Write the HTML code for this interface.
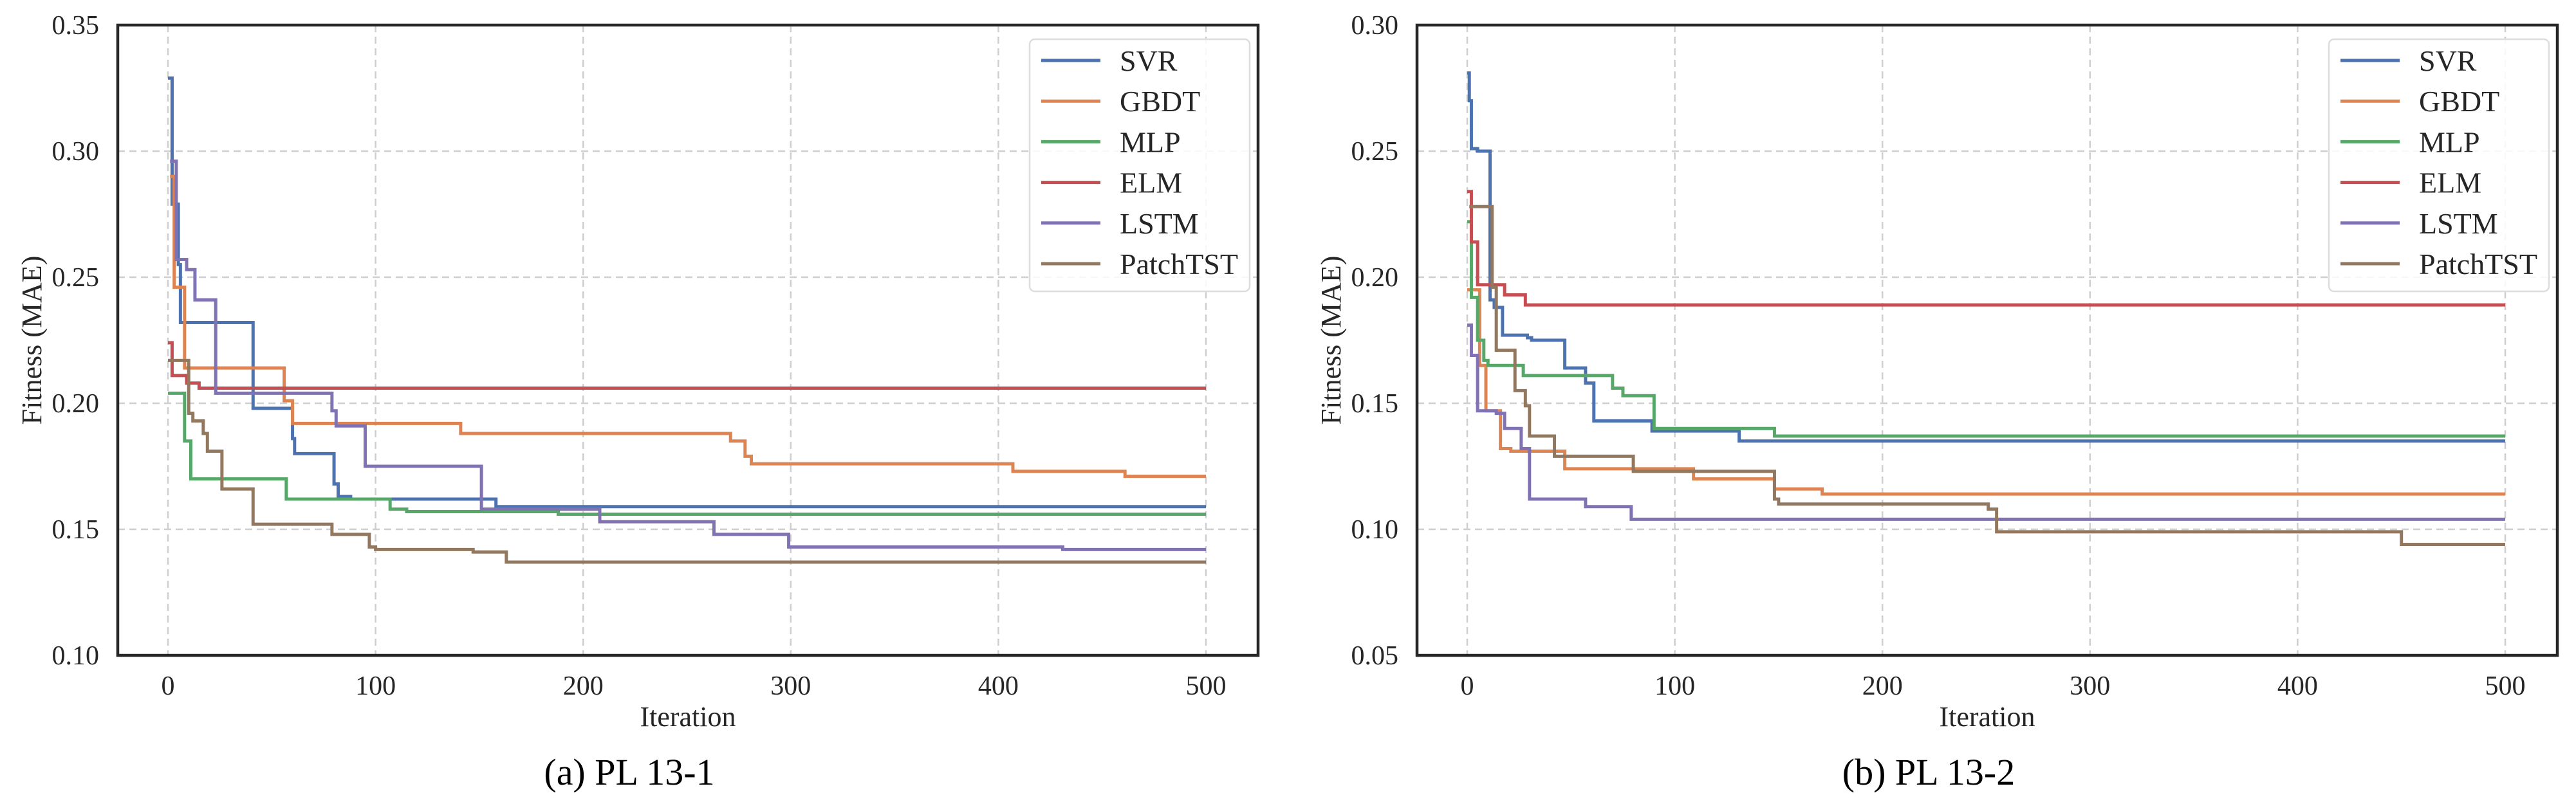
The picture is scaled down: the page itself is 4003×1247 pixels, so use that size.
<!DOCTYPE html>
<html><head><meta charset="utf-8">
<style>
html,body{margin:0;padding:0;background:#fff;}
svg{display:block;font-family:"Liberation Serif","DejaVu Serif",serif;}
</style></head>
<body>
<svg id="fig" width="4003" height="1247" viewBox="0 0 4003 1247" xmlns="http://www.w3.org/2000/svg"></svg>
<script>
const seriesNames = ["SVR","GBDT","MLP","ELM","LSTM","PatchTST"];
const xTicks = [0,100,200,300,400,500];
const yTicksA = [0.10,0.15,0.20,0.25,0.30,0.35];
const yTicksB = [0.05,0.10,0.15,0.20,0.25,0.30];

// Panel A (PL 13-1): step points (iteration, fitness)
const a_svr_x = [0,2,5,6,41,57,60,61,80,82,88,158,500];
const a_svr_y = [0.329,0.279,0.255,0.232,0.198,0.198,0.186,0.180,0.168,0.163,0.162,0.159,0.159];
const a_gbdt_x = [1,3,8,56,60,141,271,278,281,407,461,500];
const a_gbdt_y = [0.290,0.246,0.214,0.201,0.192,0.188,0.185,0.179,0.176,0.173,0.171,0.171];
const a_mlp_x = [0,8,11,57,107,115,188,500];
const a_mlp_y = [0.204,0.185,0.170,0.162,0.158,0.157,0.156,0.156];
const a_elm_x = [0,2,9,15,500];
const a_elm_y = [0.224,0.211,0.208,0.206,0.206];
const a_lstm_x = [1,4,9,13,23,79,81,95,151,208,263,299,431,500];
const a_lstm_y = [0.296,0.257,0.253,0.241,0.204,0.197,0.191,0.175,0.158,0.153,0.148,0.143,0.142,0.142];
const a_patch_x = [0,10,12,17,19,26,41,79,97,100,147,163,500];
const a_patch_y = [0.217,0.196,0.193,0.188,0.181,0.166,0.152,0.148,0.143,0.142,0.141,0.137,0.137];

// Panel B (PL 13-2)
const b_svr_x = [0,1,2,5,11,13,17,29,31,47,57,61,89,131,500];
const b_svr_y = [0.281,0.270,0.251,0.250,0.191,0.188,0.177,0.176,0.175,0.164,0.158,0.143,0.139,0.135,0.135];
const b_gbdt_x = [0,6,9,16,21,47,109,148,171,500];
const b_gbdt_y = [0.195,0.165,0.147,0.132,0.131,0.124,0.120,0.116,0.114,0.114];
const b_mlp_x = [0,2,5,8,10,27,70,75,90,148,500];
const b_mlp_y = [0.222,0.192,0.175,0.167,0.165,0.161,0.156,0.153,0.140,0.137,0.137];
const b_elm_x = [0,2,5,18,28,500];
const b_elm_y = [0.234,0.214,0.197,0.193,0.189,0.189];
const b_lstm_x = [0,2,5,14,18,26,30,57,79,500];
const b_lstm_y = [0.181,0.169,0.147,0.146,0.140,0.132,0.112,0.109,0.104,0.104];
const b_patch_x = [1,12,14,23,28,30,42,80,148,150,251,255,450,500];
const b_patch_y = [0.228,0.196,0.171,0.155,0.149,0.137,0.129,0.123,0.112,0.110,0.108,0.099,0.094,0.094];

const colors = ["#4c72b0","#dd8452","#55a868","#c44e52","#8172b3","#937860"];
const NS = "http://www.w3.org/2000/svg";
const svg = document.getElementById("fig");

function el(tag, attrs, parent){
  const e = document.createElementNS(NS, tag);
  for (const k in attrs) e.setAttribute(k, attrs[k]);
  (parent||svg).appendChild(e);
  return e;
}

function panel(off, yTicks, ymin, ymax, xs, ys, caption, pname){
  const L = 183+off, R = 1955+off, T = 39, B = 1019;
  const x0 = 261+off, x500 = 1874+off;
  const sx = v => x0 + (v/500)*(x500-x0);
  const sy = v => B - (v-ymin)/(ymax-ymin)*(B-T);
  const g = el("g", {});
  
  
  xTicks.forEach(t=>{
    const l = el("line",{x1:sx(t),x2:sx(t),y1:T,y2:B,stroke:"#cfcfcf","stroke-width":2.5,"stroke-dasharray":"11,7"},g);
    
    
    const tx = el("text",{x:sx(t),y:1080,"font-size":42,"text-anchor":"middle",fill:"#262626"},g);
    tx.textContent = t;
    
    
  });
  yTicks.forEach(t=>{
    const l = el("line",{x1:L,x2:R,y1:sy(t),y2:sy(t),stroke:"#cfcfcf","stroke-width":2.5,"stroke-dasharray":"11,7"},g);
    
    
    const tx = el("text",{x:L-29,y:sy(t)+14,"font-size":42,"text-anchor":"end",fill:"#262626"},g);
    tx.textContent = t.toFixed(2);
    
    
  });
  xs.forEach((xa,i)=>{
    const ya = ys[i];
    let d = "M"+sx(xa[0])+","+sy(ya[0]);
    for(let k=1;k<xa.length;k++){
      d += " L"+sx(xa[k])+","+sy(ya[k-1])+" L"+sx(xa[k])+","+sy(ya[k]);
    }
    const p = el("path",{d:d,fill:"none",stroke:colors[i],"stroke-width":5,"stroke-linejoin":"miter"},g);
    
    
  });
  const fr = el("rect",{x:L,y:T,width:R-L,height:B-T,fill:"none",stroke:"#262626","stroke-width":4.5},g);
  
  
  const lg = el("g",{},g);
  
  
  el("rect",{x:1600+off,y:61,width:342,height:392,rx:8,fill:"#fff","fill-opacity":0.85,stroke:"#dddddd","stroke-width":2.5},lg);
  seriesNames.forEach((n,i)=>{
    const yy = 94 + i*63.2;
    const ln = el("line",{x1:1618+off,x2:1710+off,y1:yy,y2:yy,stroke:colors[i],"stroke-width":5},lg);
    
    
    const tx = el("text",{x:1740+off,y:yy+16,"font-size":46,fill:"#262626"},lg);
    tx.textContent = n;
    
    
  });
  const xl = el("text",{x:(L+R)/2,y:1129,"font-size":44,"text-anchor":"middle",fill:"#262626"},g);
  xl.textContent = "Iteration";
  
  
  const yl = el("text",{x:0,y:0,"font-size":44,"text-anchor":"middle",fill:"#262626",transform:"translate("+(64+off)+","+((T+B)/2)+") rotate(-90)"},g);
  yl.textContent = "Fitness (MAE)";
  
  
  const cap = el("text",{x:978+off,y:1220,"font-size":58,"text-anchor":"middle",fill:"#000"},g);
  cap.textContent = caption;
  
  
}

panel(0, yTicksA, 0.10, 0.35,
  [a_svr_x,a_gbdt_x,a_mlp_x,a_elm_x,a_lstm_x,a_patch_x],
  [a_svr_y,a_gbdt_y,a_mlp_y,a_elm_y,a_lstm_y,a_patch_y], "(a) PL 13-1", "panel-pl13-1");
panel(2019, yTicksB, 0.05, 0.30,
  [b_svr_x,b_gbdt_x,b_mlp_x,b_elm_x,b_lstm_x,b_patch_x],
  [b_svr_y,b_gbdt_y,b_mlp_y,b_elm_y,b_lstm_y,b_patch_y], "(b) PL 13-2", "panel-pl13-2");
</script>
</body></html>
